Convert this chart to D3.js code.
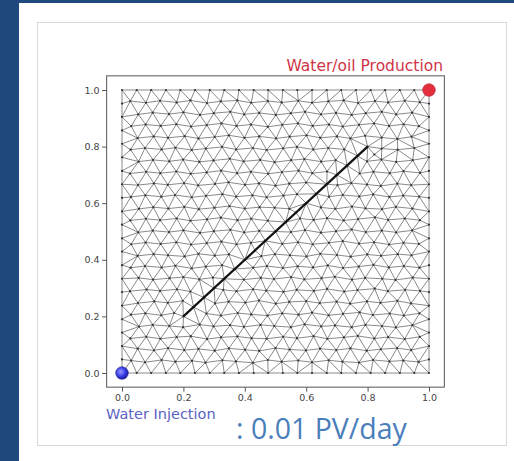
<!DOCTYPE html>
<html>
<head>
<meta charset="utf-8">
<script src="https://cdn.jsdelivr.net/npm/d3@7"></script>
<style>
  html, body { margin: 0; padding: 0; background: #ffffff; }
  svg { display: block; }
</style>
</head>
<body>
<svg id="chart" width="514" height="461"></svg>
<script>
// ---- data ---------------------------------------------------------------
const xTicks = [0.0, 0.2, 0.4, 0.6, 0.8, 1.0];
const yTicks = [0.0, 0.2, 0.4, 0.6, 0.8, 1.0];

// mesh node positions along each side of the unit square (thousandths)
const boundaryNodes = [0, 48, 95, 143, 190, 238, 286, 333, 381, 429, 476,
  524, 571, 619, 667, 714, 762, 810, 857, 905, 952, 1000];

// nodes placed on the fracture (v, v), thousandths
const fractureNodes = [200, 233, 267, 300, 333, 367, 400, 433, 467, 500,
  533, 567, 600, 633, 667, 700, 733, 767, 800];

// fracture segment end points
const fracture = [[0.2, 0.2], [0.8, 0.8]];

// wells
const injectionWell = [0.0, 0.0];
const productionWell = [1.0, 1.0];

// interior mesh nodes [x, y], thousandths
const interiorNodes = [
  [30,44],[75,38],[129,46],[174,40],[228,43],[272,37],[327,45],[371,41],[426,36],[475,46],[520,40],[574,44],[619,38],[673,45],[718,40],[772,37],[818,46],[871,41],[916,44],[966,39],
  [51,86],[104,80],[150,88],[203,81],[249,85],[302,79],[348,87],[401,82],[447,78],[500,88],[546,83],[599,80],[645,86],[698,81],[744,87],[797,79],[843,84],[896,88],[942,81],
  [27,122],[79,128],[125,121],[178,127],[224,130],[277,120],[323,126],[376,129],[422,123],[471,121],[525,128],[570,123],[624,130],[669,121],[723,126],[768,131],[822,122],[867,127],[921,120],[970,128],
  [55,164],[100,170],[154,166],[199,162],[253,171],[298,165],[352,169],[397,163],[451,170],[496,166],[550,162],[595,172],[649,165],[694,168],[748,162],[793,170],[847,166],[892,161],[946,169],
  [29,206],[76,211],[128,204],[170,212],[275,210],[322,203],[377,212],[421,207],[474,203],[522,211],[575,206],[619,213],[673,204],[720,209],[774,214],[817,205],[872,210],[918,203],[969,211],
  [52,247],[105,253],[149,248],[198,255],[303,246],[347,252],[402,249],[446,256],[501,245],[545,251],[600,254],[644,247],[699,252],[743,245],[798,253],[842,248],[897,255],[941,246],
  [26,289],[80,295],[124,290],[179,296],[223,288],[330,294],[373,289],[427,296],[470,291],[526,287],[569,294],[625,290],[668,297],[724,288],[767,293],[823,298],[866,289],[922,294],[971,290],
  [54,336],[101,330],[155,335],[200,339],[252,331],[296,337],[397,330],[452,336],[495,332],[551,339],[594,331],[650,335],[693,340],[749,330],[792,336],[848,333],[891,329],[947,337],
  [28,372],[75,378],[129,373],[174,379],[227,370],[273,376],[326,381],[427,372],[472,378],[524,371],[572,377],[622,373],[670,380],[720,371],[771,376],[819,382],[869,373],[918,378],[969,372],
  [51,414],[103,420],[150,416],[204,412],[249,421],[302,415],[348,419],[454,413],[498,420],[547,416],[601,412],[646,421],[700,417],[745,411],[799,419],[844,414],[898,420],[943,416],
  [30,455],[77,461],[126,456],[177,462],[225,454],[276,459],[324,464],[373,455],[420,460],[522,456],[573,462],[621,455],[674,460],[719,466],[772,457],[821,462],[870,454],[917,460],[967,456],
  [53,497],[100,503],[153,498],[200,504],[254,495],[299,501],[353,506],[398,497],[447,502],[550,498],[596,505],[648,496],[697,501],[748,507],[794,498],[846,503],[893,497],[945,504],
  [27,539],[78,545],[124,540],[178,546],[223,538],[277,543],[322,549],[376,540],[421,545],[475,538],[580,546],[624,541],[668,547],[722,539],[769,544],[824,550],[867,541],[921,546],[970,540],
  [55,580],[102,586],[151,581],[203,587],[250,579],[301,584],[350,590],[400,581],[448,586],[497,584],[545,580],[648,585],[695,580],[749,588],[793,582],[847,579],[892,587],[946,581],
  [29,622],[76,628],[128,623],[173,629],[227,621],[274,626],[327,632],[372,623],[425,628],[471,621],[526,627],[570,632],[674,623],[719,629],[773,624],[818,631],[871,622],[916,627],[968,623],
  [52,664],[104,670],[149,665],[202,671],[248,663],[303,668],[347,674],[401,665],[446,670],[500,662],[545,669],[600,673],[702,664],[747,671],[798,666],[843,661],[897,669],[942,664],
  [26,705],[79,711],[125,706],[177,712],[224,704],[276,709],[323,715],[375,706],[420,711],[476,704],[521,710],[575,715],[620,706],[668,712],[774,705],[819,711],[872,706],[917,713],[971,707],
  [54,747],[101,753],[154,748],[199,754],[252,746],[298,751],[351,757],[396,748],[450,753],[497,745],[551,752],[594,756],[649,747],[696,752],[798,748],[845,754],[893,746],[947,752],
  [28,789],[75,795],[129,790],[174,796],[227,788],[273,793],[326,799],[372,790],[426,795],[471,788],[525,794],[570,799],[623,790],[672,795],[724,790],[822,772],[846,793],[898,789],[952,795],
  [51,830],[103,836],[150,831],[204,837],[249,829],[302,834],[348,840],[399,831],[447,836],[502,829],[546,835],[601,840],[646,831],[700,836],[744,829],[792,838],[846,832],[897,827],[943,835],
  [30,872],[77,878],[126,873],[177,879],[225,871],[276,876],[324,882],[373,873],[420,878],[475,870],[522,877],[573,882],[621,873],[674,878],[719,871],[772,877],[821,882],[870,873],[917,879],[967,872],
  [53,914],[100,920],[153,915],[200,921],[254,912],[299,918],[353,923],[398,914],[447,919],[501,912],[550,918],[596,923],[648,914],[697,919],[748,912],[794,918],[846,923],[893,914],[945,920],
  [27,961],[78,955],[124,962],[178,956],[223,963],[277,954],[322,960],[376,963],[421,955],[475,961],[520,956],[574,962],[619,955],[672,960],[722,963],[769,954],[824,961],[867,956],[921,962],[970,957]
];

const titleProduction = "Water/oil Production";
const titleInjection = "Water Injection";
const rateNote = ": 0.01 PV/day";

// ---- layout -------------------------------------------------------------
const svg = d3.select("#chart");

// slide frame: dark blue band on the left and top, light panel border
svg.append("rect").attr("x", 0).attr("y", 0).attr("width", 514).attr("height", 461).attr("fill", "#ffffff");
svg.append("rect").attr("x", 0).attr("y", 0).attr("width", 19).attr("height", 461).attr("fill", "#1f497d");
svg.append("rect").attr("x", 0).attr("y", 0).attr("width", 514).attr("height", 3).attr("fill", "#1f497d");
svg.append("rect").attr("x", 37.5).attr("y", 22.5).attr("width", 469).attr("height", 423)
  .attr("fill", "#ffffff").attr("stroke", "#d9d9d9").attr("stroke-width", 1);

const x = d3.scaleLinear().domain([-0.05, 1.05]).range([106.65, 444.35]);
const y = d3.scaleLinear().domain([-0.05, 1.05]).range([387.15, 75.85]);

// ---- mesh ---------------------------------------------------------------
const nodeKeys = new Set();
const nodes = [];
function addNode(px, py) {
  const k = px + "," + py;
  if (nodeKeys.has(k)) return;
  nodeKeys.add(k);
  nodes.push([px / 1000, py / 1000]);
}
boundaryNodes.forEach(b => { addNode(b, 0); addNode(b, 1000); addNode(0, b); addNode(1000, b); });
fractureNodes.forEach(v => addNode(v, v));
interiorNodes.forEach(p => addNode(p[0], p[1]));

const delaunay = d3.Delaunay.from(nodes, d => d[0], d => d[1]);
const tri = delaunay.triangles, half = delaunay.halfedges;
const edgePath = d3.path();
for (let e = 0; e < tri.length; e++) {
  if (e > half[e] || half[e] === -1) {
    const a = nodes[tri[e]];
    const b = nodes[tri[e % 3 === 2 ? e - 2 : e + 1]];
    edgePath.moveTo(x(a[0]), y(a[1]));
    edgePath.lineTo(x(b[0]), y(b[1]));
  }
}
svg.append("path").attr("d", edgePath.toString())
  .attr("fill", "none").attr("stroke", "#8a8a8a")
  .attr("stroke-width", 1);

svg.append("g").selectAll("circle").data(nodes).join("circle")
  .attr("cx", d => x(d[0])).attr("cy", d => y(d[1])).attr("r", 1.1)
  .attr("fill", "#333");

// fracture
svg.append("line")
  .attr("x1", x(fracture[0][0])).attr("y1", y(fracture[0][1]))
  .attr("x2", x(fracture[1][0])).attr("y2", y(fracture[1][1]))
  .attr("stroke", "#111").attr("stroke-width", 2.2);

// ---- axes ---------------------------------------------------------------
const fmt = d3.format(".1f");
const xAxis = svg.append("g").attr("transform", "translate(0,387.15)")
  .call(d3.axisBottom(x).tickValues(xTicks).tickFormat(fmt).tickSize(4.5).tickSizeOuter(0));
const yAxis = svg.append("g").attr("transform", "translate(106.65,0)")
  .call(d3.axisLeft(y).tickValues(yTicks).tickFormat(fmt).tickSize(4.5).tickSizeOuter(0));
[xAxis, yAxis].forEach(g => {
  g.select(".domain").remove();
  g.selectAll(".tick line").attr("stroke", "#555").attr("stroke-width", 1);
  g.selectAll(".tick text").attr("fill", "#444")
    .style("font-family", "'DejaVu Sans', sans-serif").style("font-size", "9.5px");
});
xAxis.selectAll(".tick text").attr("dy", "0.71em").attr("y", 7);
yAxis.selectAll(".tick text").attr("x", -7);

// axes frame
svg.append("rect").attr("x", 106.65).attr("y", 75.85)
  .attr("width", 444.35 - 106.65).attr("height", 387.15 - 75.85)
  .attr("fill", "none").attr("stroke", "#555").attr("stroke-width", 1);

// ---- wells --------------------------------------------------------------
const defs = svg.append("defs");
const gBlue = defs.append("radialGradient").attr("id", "injGrad")
  .attr("cx", "40%").attr("cy", "40%").attr("r", "60%");
gBlue.append("stop").attr("offset", "0%").attr("stop-color", "#9a9cff");
gBlue.append("stop").attr("offset", "60%").attr("stop-color", "#3a3ee6");
gBlue.append("stop").attr("offset", "100%").attr("stop-color", "#1c1e9c");

svg.append("circle").attr("cx", x(injectionWell[0])).attr("cy", y(injectionWell[1])).attr("r", 6.3)
  .attr("fill", "url(#injGrad)").attr("stroke", "#2a2a90").attr("stroke-width", 0.6);
svg.append("circle").attr("cx", x(productionWell[0])).attr("cy", y(productionWell[1])).attr("r", 6.3)
  .attr("fill", "#e4303e").attr("stroke", "#b02030").attr("stroke-width", 0.6);

// ---- labels -------------------------------------------------------------
svg.append("text").attr("x", 443).attr("y", 71).attr("text-anchor", "end")
  .attr("fill", "#cf3448").style("font-family", "'DejaVu Sans', sans-serif").style("font-size", "15.5px")
  .text(titleProduction);
svg.append("text").attr("x", 106).attr("y", 418.5)
  .attr("fill", "#5a63c2").style("font-family", "'DejaVu Sans', sans-serif").style("font-size", "14.5px")
  .text(titleInjection);
svg.append("text").attr("x", 236).attr("y", 438.5)
  .attr("fill", "#4a7ebb").style("font-family", "'Open Sans', sans-serif").style("font-size", "28.5px")
  .text(rateNote);
</script>
</body>
</html>
